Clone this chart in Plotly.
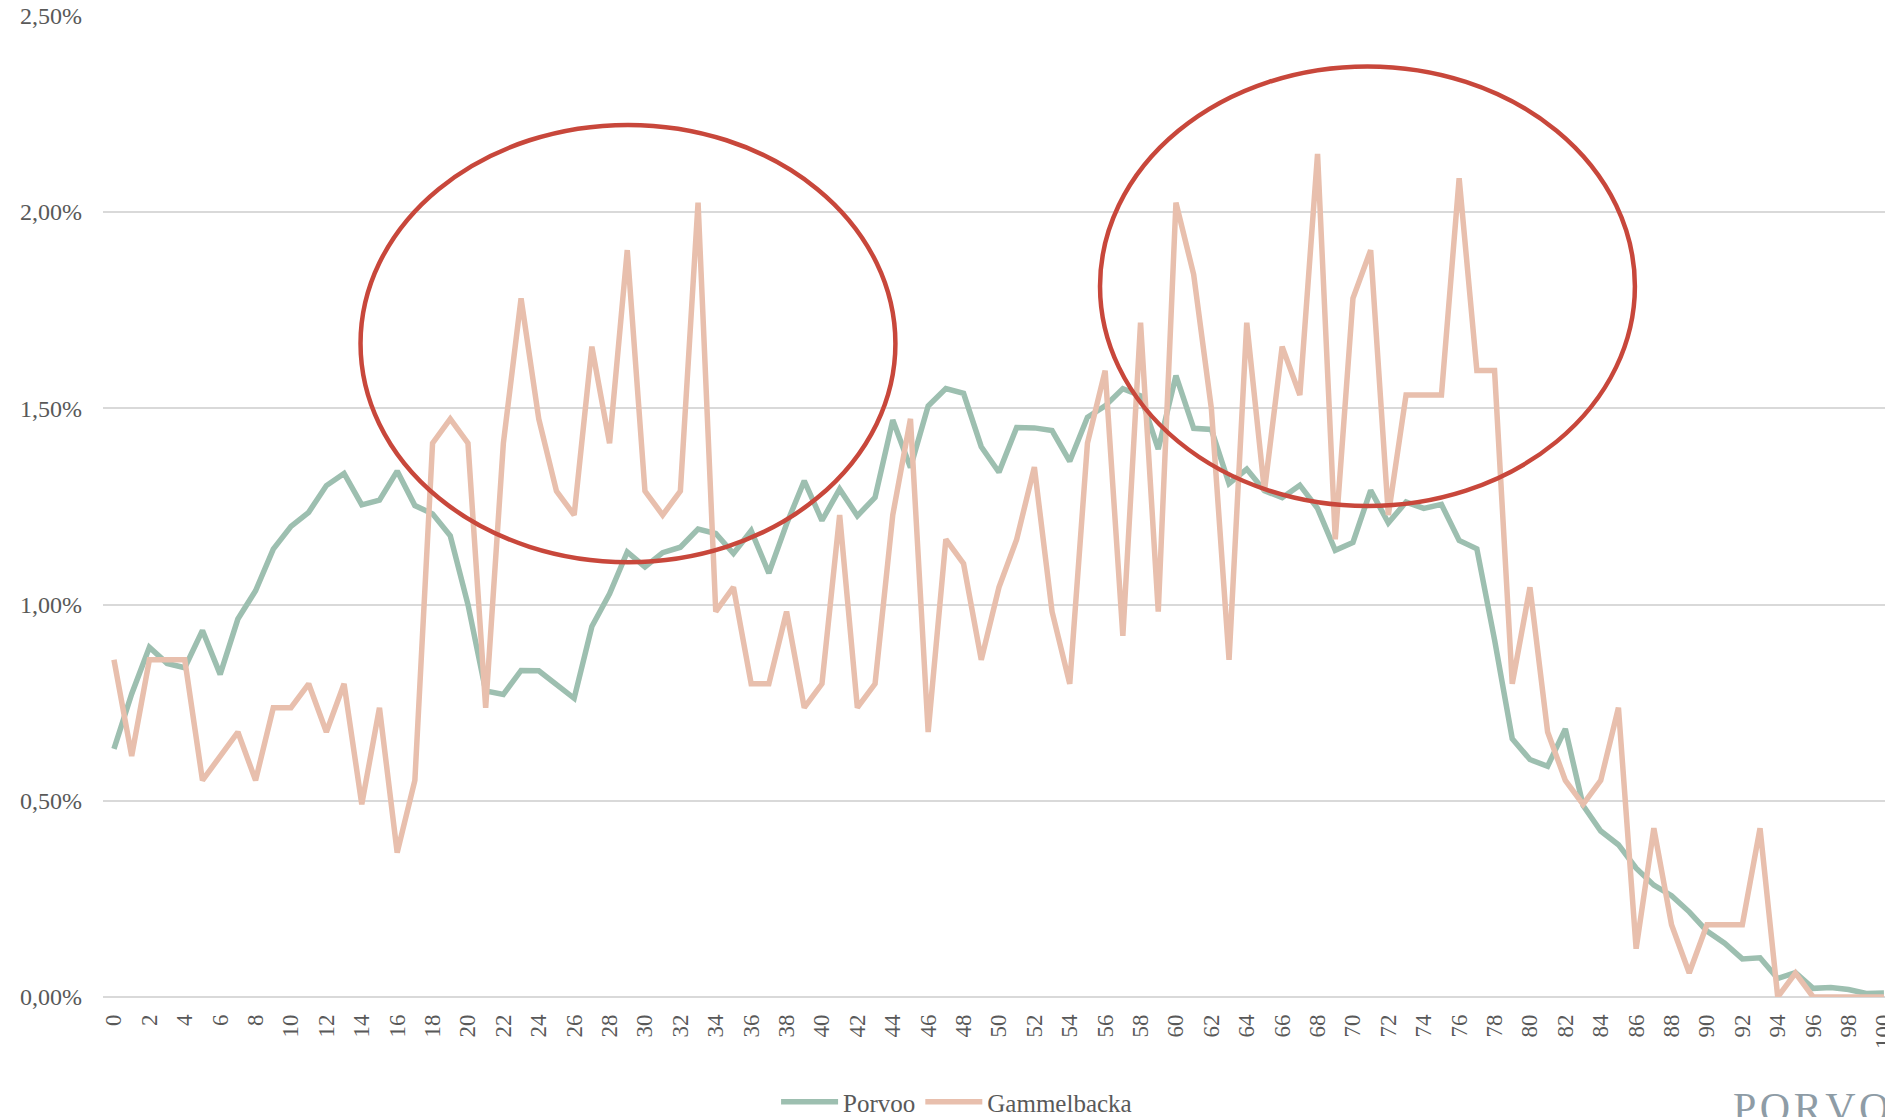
import plotly.graph_objects as go

ages = list(range(0, 101))

porvoo = [
    0.632, 0.772, 0.891, 0.850, 0.839, 0.934, 0.822, 0.963, 1.035, 1.141,
    1.199, 1.235, 1.303, 1.334, 1.254, 1.266, 1.340, 1.252, 1.231, 1.175,
    1.000, 0.780, 0.771, 0.832, 0.831, 0.795, 0.761, 0.944, 1.027, 1.134,
    1.096, 1.132, 1.146, 1.192, 1.181, 1.130, 1.188, 1.080, 1.205, 1.315,
    1.214, 1.294, 1.226, 1.273, 1.470, 1.349, 1.506, 1.550, 1.538, 1.402,
    1.337, 1.451, 1.450, 1.443, 1.365, 1.477, 1.506, 1.550, 1.532, 1.396,
    1.583, 1.449, 1.446, 1.308, 1.345, 1.290, 1.272, 1.304, 1.245, 1.138,
    1.158, 1.291, 1.208, 1.261, 1.245, 1.255, 1.163, 1.142, 0.910, 0.658,
    0.605, 0.588, 0.683, 0.488, 0.423, 0.388, 0.328, 0.285, 0.258, 0.217,
    0.168, 0.137, 0.097, 0.100, 0.047, 0.062, 0.022, 0.024, 0.019, 0.009,
    0.010,
]

gammelbacka = [
    0.859, 0.614, 0.859, 0.859, 0.859, 0.552, 0.614, 0.675, 0.552, 0.737,
    0.737, 0.798, 0.675, 0.798, 0.491, 0.737, 0.368, 0.552, 1.411, 1.473,
    1.411, 0.737, 1.411, 1.780, 1.473, 1.289, 1.228, 1.657, 1.411, 1.903,
    1.289, 1.228, 1.289, 2.024, 0.982, 1.044, 0.798, 0.798, 0.982, 0.737,
    0.798, 1.228, 0.737, 0.798, 1.228, 1.473, 0.675, 1.166, 1.104, 0.859,
    1.044, 1.166, 1.350, 0.982, 0.798, 1.411, 1.596, 0.920, 1.718, 0.982,
    2.024, 1.841, 1.500, 0.859, 1.718, 1.289, 1.657, 1.534, 2.148, 1.166,
    1.780, 1.903, 1.228, 1.534, 1.534, 1.534, 2.086, 1.596, 1.596, 0.798,
    1.044, 0.675, 0.552, 0.491, 0.552, 0.737, 0.123, 0.430, 0.184, 0.061,
    0.184, 0.184, 0.184, 0.430, 0.000, 0.061, 0.000, 0.000, 0.000, 0.000,
    0.000,
]

series_names = ["Porvoo", "Gammelbacka"]
series_colors = ["#9dbfb0", "#e8bfad"]

x_tick_vals = list(range(0, 101, 2))
x_tick_text = [str(v) for v in x_tick_vals]
y_tick_vals = [0, 0.5, 1.0, 1.5, 2.0, 2.5]
y_tick_text = ["0,00%", "0,50%", "1,00%", "1,50%", "2,00%", "2,50%"]

# highlight ellipses (data coordinates: x0, x1, y0, y1)
ellipses = [
    (13.93, 44.15, 1.108, 2.222),
    (55.71, 85.93, 1.251, 2.371),
]

FONT = "Liberation Serif, Georgia, serif"

fig = go.Figure()
for name, vals, col in zip(series_names, [porvoo, gammelbacka], series_colors):
    fig.add_trace(go.Scatter(
        x=ages, y=vals, mode="lines", name=name,
        line=dict(color=col, width=5.5),
    ))

for (x0, x1, y0, y1) in ellipses:
    fig.add_shape(type="circle", xref="x", yref="y", x0=x0, x1=x1, y0=y0, y1=y1,
                  line=dict(color="#c8473b", width=4.5), layer="above")

fig.add_annotation(
    text="P\u200aO\u200aR\u200aV\u200aO\u200aO", xref="paper", yref="paper",
    x=0.9136, y=-0.0876, xanchor="left", yanchor="top", showarrow=False,
    font=dict(family=FONT, size=42, color="#8e9ca6"),
)

fig.update_layout(
    width=1885, height=1117,
    margin=dict(l=103, r=0, t=15, b=120, autoexpand=False),
    paper_bgcolor="white", plot_bgcolor="white",
    separators=", ",
    font=dict(family=FONT, color="#595959"),
    showlegend=True,
    legend=dict(
        orientation="h", x=0.479, y=-0.107, xanchor="center", yanchor="middle",
        font=dict(family=FONT, size=25, color="#595959"),
        itemwidth=57, bgcolor="rgba(0,0,0,0)",
    ),
    xaxis=dict(
        range=[-0.62, 100.06], tickmode="array", tickvals=x_tick_vals,
        ticktext=x_tick_text, tickangle=-90, showgrid=False, zeroline=False,
        showline=False, ticks="", ticklabelstandoff=12, automargin=False,
        ticklabeloverflow="allow",
        tickfont=dict(family=FONT, size=23, color="#595959"),
    ),
    yaxis=dict(
        range=[0, 2.502], tickmode="array", tickvals=y_tick_vals,
        ticktext=y_tick_text, showgrid=True, gridcolor="#d9d9d9",
        gridwidth=1.5, zeroline=True, zerolinecolor="#d9d9d9", zerolinewidth=1.5,
        showline=False, ticks="", ticklabelstandoff=20, automargin=False,
        tickfont=dict(family=FONT, size=24, color="#595959"),
    ),
)

fig.write_html(
    "out.html",
    config={"displayModeBar": False},
    post_script="document.body.style.margin='0';document.body.style.overflow='hidden';",
)
